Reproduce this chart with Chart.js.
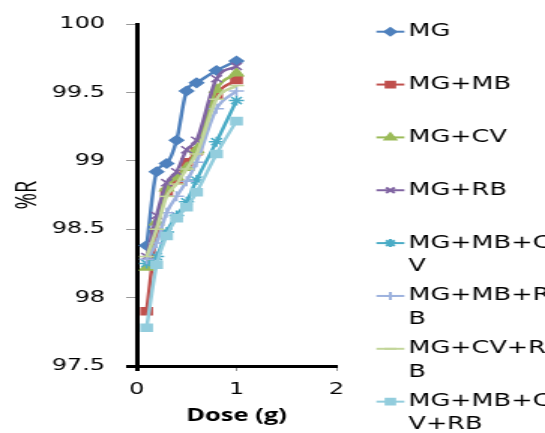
<!DOCTYPE html>
<html>
<head>
<meta charset="utf-8">
<script src="https://cdn.jsdelivr.net/npm/chart.js@4"></script>
<style>
  html, body { margin: 0; padding: 0; background: #fff; overflow: hidden; }
  /* the reference image is stretched sideways, so draw narrow and stretch */
  #wrap { width: 363px; height: 433px; transform: scaleX(1.5014); transform-origin: 0 0; }
</style>
</head>
<body>
<div id="wrap"><canvas id="chart" width="363" height="433"></canvas></div>
<script>
// Dose (g) on the x axis
const doses = [0.1, 0.2, 0.3, 0.4, 0.5, 0.6, 0.8, 1.0];

const seriesNames = ["MG", "MG+MB", "MG+CV", "MG+RB", "MG+MB+CV", "MG+MB+RB", "MG+CV+RB", "MG+MB+CV+RB"];

// %R values per series
const mg        = [98.38, 98.92, 98.98, 99.15, 99.51, 99.57, 99.66, 99.73];
const mgMb      = [97.90, 98.48, 98.77, 98.86, 98.99, 99.07, 99.48, 99.59];
const mgCv      = [98.22, 98.55, 98.80, 98.88, 98.95, 99.08, 99.52, 99.64];
const mgRb      = [98.30, 98.60, 98.84, 98.92, 99.08, 99.15, 99.60, 99.69];
const mgMbCv    = [98.25, 98.30, 98.48, 98.60, 98.70, 98.86, 99.14, 99.44];
const mgMbRb    = [98.28, 98.40, 98.62, 98.74, 98.85, 98.99, 99.38, 99.51];
const mgCvRb    = [98.30, 98.50, 98.74, 98.83, 98.94, 99.05, 99.45, 99.55];
const mgMbCvRb  = [97.78, 98.24, 98.45, 98.58, 98.66, 98.77, 99.05, 99.29];

const yTicks = [97.5, 98, 98.5, 99, 99.5, 100];
const xTicks = [0, 1, 2];

const allValues = [mg, mgMb, mgCv, mgRb, mgMbCv, mgMbRb, mgCvRb, mgMbCvRb];
const colors = ["#4F81BD", "#C0504D", "#9BBB59", "#8064A2", "#4BACC6", "#9DB2DE", "#C3D69B", "#93CDDD"];
const markers = ["rectRot", "rect", "triangle", "crossRot", "star", "cross", "line", "rect"];
const markerSizes = [4.5, 5, 5, 5, 5, 5, 5, 5];

const FONT = '"DejaVu Sans", Verdana, sans-serif';

const datasets = allValues.map((vals, i) => ({
  label: seriesNames[i],
  data: vals.map((v, j) => ({ x: doses[j], y: v })),
  borderColor: colors[i],
  backgroundColor: colors[i],
  borderWidth: 2.5,
  pointStyle: markers[i],
  pointRadius: markerSizes[i],
  pointBorderWidth: 1.5,
  pointBackgroundColor: colors[i],
  pointBorderColor: colors[i],
  cubicInterpolationMode: "monotone",
  order: allValues.length - i
}));

// character-wrapped legend on the right, like the Excel one
function wrapChars(ctx, text, maxW) {
  const lines = [];
  let cur = "";
  for (const ch of text) {
    if (cur && ctx.measureText(cur + ch).width > maxW) {
      lines.push(cur);
      cur = ch;
    } else {
      cur += ch;
    }
  }
  if (cur) lines.push(cur);
  return lines;
}

const sideLegend = {
  id: "sideLegend",
  afterDraw(chart) {
    const ctx = chart.ctx;
    ctx.save();
    ctx.font = "17px " + FONT;
    ctx.textBaseline = "middle";
    chart.data.datasets.forEach((ds, i) => {
      const y = 31.7 + i * 52.85;
      ctx.strokeStyle = ds.borderColor;
      ctx.fillStyle = ds.borderColor;
      ctx.lineWidth = 2;
      ctx.beginPath();
      ctx.moveTo(250.7, y);
      ctx.lineTo(269.3, y);
      ctx.stroke();
      Chart.helpers.drawPoint(ctx, {
        pointStyle: ds.pointStyle,
        radius: ds.pointRadius * 0.8,
        borderWidth: 1.5,
        rotation: 0
      }, 260, y);
      ctx.fillStyle = "#000";
      wrapChars(ctx, ds.label, 98).forEach((line, k) => {
        ctx.fillText(line, 272, y + k * 23.3);
      });
    });
    ctx.restore();
  }
};

new Chart(document.getElementById("chart"), {
  type: "line",
  data: { datasets },
  plugins: [sideLegend],
  options: {
    responsive: false,
    animation: false,
    layout: { padding: { top: 24, right: 139, bottom: 0, left: 0 } },
    plugins: {
      legend: { display: false },
      tooltip: { enabled: false }
    },
    scales: {
      x: {
        type: "linear",
        min: 0,
        max: 2,
        afterFit(scale) { scale.height = 67; },
        afterBuildTicks(scale) { scale.ticks = xTicks.map(v => ({ value: v })); },
        border: { color: "#000", width: 3 },
        grid: {
          drawOnChartArea: false,
          tickLength: 5,
          tickColor: c => c.index === 0 ? "#000" : "#999",
          tickWidth: c => c.index === 0 ? 3 : 1
        },
        ticks: { font: { family: FONT, size: 16 }, color: "#000", padding: 9 },
        title: {
          display: true,
          text: "Dose (g)",
          color: "#000",
          font: { family: '"Open Sans", sans-serif', size: 17, weight: "bold" },
          padding: { top: 0, bottom: 7 }
        }
      },
      y: {
        min: 97.5,
        max: 100,
        afterFit(scale) { scale.width = 91; },
        afterBuildTicks(scale) { scale.ticks = yTicks.map(v => ({ value: v })); },
        border: { color: "#000", width: 3 },
        grid: {
          drawOnChartArea: false,
          tickLength: 7,
          tickColor: c => c.index === 0 ? "#000" : "#999",
          tickWidth: c => c.index === 0 ? 3 : 1
        },
        ticks: {
          font: { family: FONT, size: 16 },
          color: "#000",
          padding: 14,
          callback: v => String(Math.round(v * 10) / 10)
        },
        title: {
          display: true,
          text: "%R",
          color: "#000",
          font: { family: '"Open Sans", sans-serif', size: 20 },
          padding: { top: 6, bottom: 0 }
        }
      }
    }
  }
});
</script>
</body>
</html>
